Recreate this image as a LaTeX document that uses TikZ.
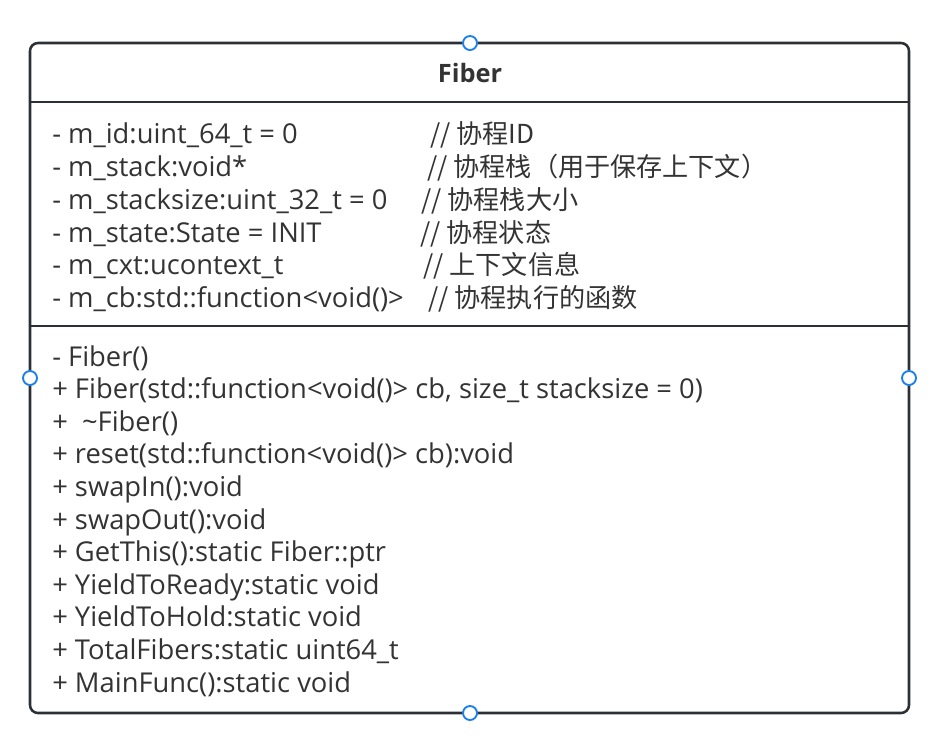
\documentclass[tikz,border=0pt]{standalone}
\usepackage{fontspec}
\setmainfont{Open Sans}
\newfontfamily\cjk{Noto Sans CJK SC}
\definecolor{edge}{HTML}{2B3036}
\definecolor{txt}{HTML}{333333}
\definecolor{handle}{HTML}{1A7FE8}
\begin{document}
\begin{tikzpicture}[x=0.75pt,y=-0.75pt,
  box/.style={draw=edge,line width=1.9pt,rounded corners=6pt},
  sep/.style={draw=edge,line width=1.9pt},
  handlec/.style={circle,draw=handle,fill=white,line width=1.4pt,minimum size=10.5pt,inner sep=0pt},
  member/.style={anchor=base west,inner sep=0pt,text=txt,font=\fontsize{20.5}{24}\selectfont},
  note/.style={member,font=\fontsize{19.6}{24}\selectfont\cjk},
  title/.style={anchor=base,inner sep=0pt,text=txt,font=\fontsize{19}{24}\selectfont\bfseries}]
\useasboundingbox (0,0) rectangle (946,744);
\draw[box] (30,43) rectangle (909,713);
\coordinate (h1l) at (30,102); \coordinate (h1r) at (909,102);
\coordinate (h2l) at (30,326); \coordinate (h2r) at (909,326);
\draw[sep] (h1l) -- (h1r);
\draw[sep] (h2l) -- (h2r);
\node[title] (t) at (470,82) {Fiber};
% attributes
\node[member] (a1) at (52,143) {- m\_id:uint\_64\_t = 0};
\node[member] (a2) at (52,176) {- m\_stack:void*};
\node[member] (a3) at (52,209) {- m\_stacksize:uint\_32\_t = 0};
\node[member] (a4) at (52,242) {- m\_state:State = INIT};
\node[member] (a5) at (52,274) {- m\_cxt:ucontext\_t};
\node[member] (a6) at (52,307) {- m\_cb:std::function<void()>};
\node[note] (c1) at (430,143) {// 协程ID};
\node[note] (c2) at (427,176) {// 协程栈（用于保存上下文）};
\node[note] (c3) at (421,209) {// 协程栈大小};
\node[note] (c4) at (420,242) {// 协程状态};
\node[note] (c5) at (423,274) {// 上下文信息};
\node[note] (c6) at (428,307) {// 协程执行的函数};
% methods
\node[member] (m1) at (52,366) {- Fiber()};
\node[member] (m2) at (52,398.6) {+ Fiber(std::function<void()> cb, size\_t stacksize = 0)};
\node[member] (m3) at (52,431.2) {+\ \ \textasciitilde Fiber()};
\node[member] (m4) at (52,463.8) {+ reset(std::function<void()> cb):void};
\node[member] (m5) at (52,496.4) {+ swapIn():void};
\node[member] (m6) at (52,529) {+ swapOut():void};
\node[member] (m7) at (52,561.6) {+ GetThis():static Fiber::ptr};
\node[member] (m8) at (52,594.2) {+ YieldToReady:static void};
\node[member] (m9) at (52,626.8) {+ YieldToHold:static void};
\node[member] (m10) at (52,659.4) {+ TotalFibers:static uint64\_t};
\node[member] (m11) at (52,692) {+ MainFunc():static void};
% handles
\node[handlec] (pt) at (470,43) {};
\node[handlec] (pb) at (470,713) {};
\node[handlec] (pl) at (30,378) {};
\node[handlec] (pr) at (909,378) {};
\end{tikzpicture}
\end{document}
